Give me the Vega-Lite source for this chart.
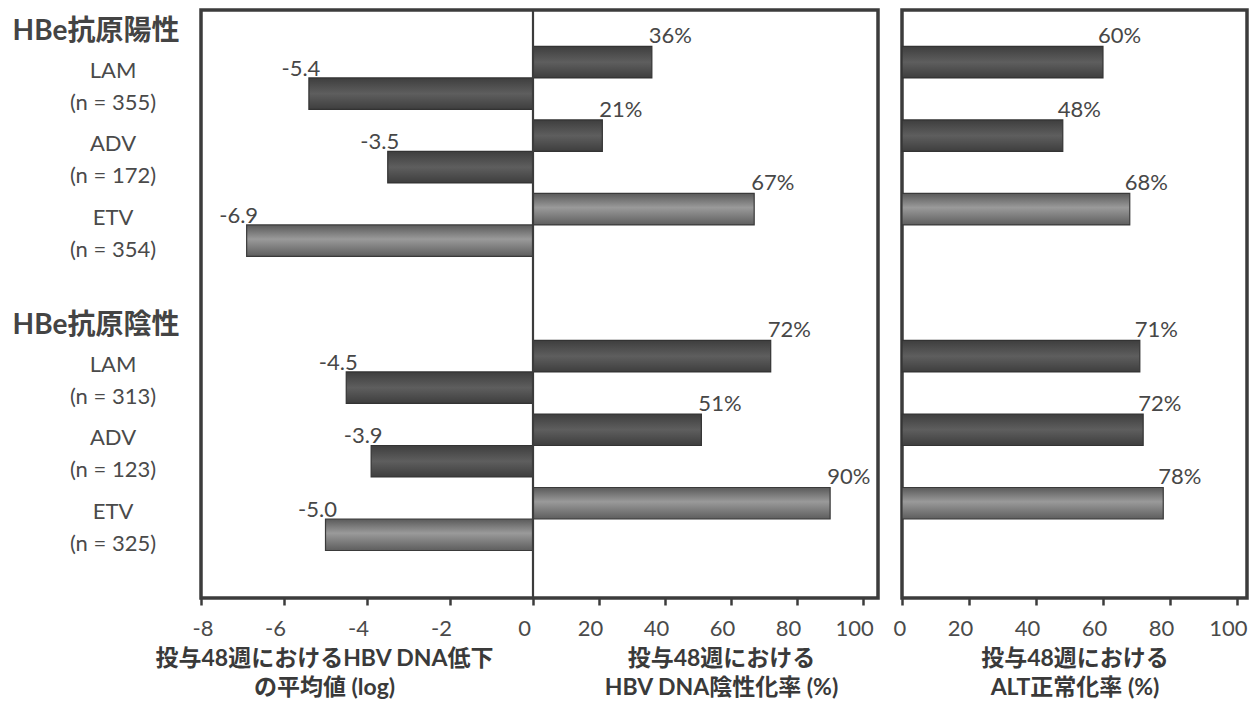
{
  "$schema": "https://vega.github.io/schema/vega-lite/v6.json",
  "background": "white",
  "padding": {"left": 10, "top": 7, "right": 5, "bottom": 5},
  "datasets": {
    "main": [
      {"group": "HBe抗原陽性", "drug": "LAM", "arm": "LAM|(n = 355)", "measure": "HBV DNA低下", "value": -5.4},
      {"group": "HBe抗原陽性", "drug": "LAM", "arm": "LAM|(n = 355)", "measure": "HBV DNA陰性化率", "value": 36},
      {"group": "HBe抗原陽性", "drug": "LAM", "arm": "LAM|(n = 355)", "measure": "ALT正常化率", "value": 60},
      {"group": "HBe抗原陽性", "drug": "ADV", "arm": "ADV|(n = 172)", "measure": "HBV DNA低下", "value": -3.5},
      {"group": "HBe抗原陽性", "drug": "ADV", "arm": "ADV|(n = 172)", "measure": "HBV DNA陰性化率", "value": 21},
      {"group": "HBe抗原陽性", "drug": "ADV", "arm": "ADV|(n = 172)", "measure": "ALT正常化率", "value": 48},
      {"group": "HBe抗原陽性", "drug": "ETV", "arm": "ETV|(n = 354)", "measure": "HBV DNA低下", "value": -6.9},
      {"group": "HBe抗原陽性", "drug": "ETV", "arm": "ETV|(n = 354)", "measure": "HBV DNA陰性化率", "value": 67},
      {"group": "HBe抗原陽性", "drug": "ETV", "arm": "ETV|(n = 354)", "measure": "ALT正常化率", "value": 68},
      {"group": "HBe抗原陰性", "drug": "LAM", "arm": "LAM|(n = 313)", "measure": "HBV DNA低下", "value": -4.5},
      {"group": "HBe抗原陰性", "drug": "LAM", "arm": "LAM|(n = 313)", "measure": "HBV DNA陰性化率", "value": 72},
      {"group": "HBe抗原陰性", "drug": "LAM", "arm": "LAM|(n = 313)", "measure": "ALT正常化率", "value": 71},
      {"group": "HBe抗原陰性", "drug": "ADV", "arm": "ADV|(n = 123)", "measure": "HBV DNA低下", "value": -3.9},
      {"group": "HBe抗原陰性", "drug": "ADV", "arm": "ADV|(n = 123)", "measure": "HBV DNA陰性化率", "value": 51},
      {"group": "HBe抗原陰性", "drug": "ADV", "arm": "ADV|(n = 123)", "measure": "ALT正常化率", "value": 72},
      {"group": "HBe抗原陰性", "drug": "ETV", "arm": "ETV|(n = 325)", "measure": "HBV DNA低下", "value": -5.0},
      {"group": "HBe抗原陰性", "drug": "ETV", "arm": "ETV|(n = 325)", "measure": "HBV DNA陰性化率", "value": 90},
      {"group": "HBe抗原陰性", "drug": "ETV", "arm": "ETV|(n = 325)", "measure": "ALT正常化率", "value": 78}
    ]
  },
  "config": {
    "font": "Lato, 'Noto Sans CJK JP', sans-serif",
    "view": {"stroke": "#3c3c3c", "strokeWidth": 3.5},
    "axis": {
      "grid": false,
      "domain": false,
      "labelFont": "Lato, 'Noto Sans CJK JP', sans-serif",
      "labelFontSize": 22,
      "labelColor": "#4a4a4a",
      "titleFont": "Lato, 'Noto Sans CJK JP', sans-serif",
      "titleFontSize": 23,
      "titleFontWeight": "bold",
      "titleColor": "#3a3a3a",
      "tickColor": "#3c3c3c",
      "tickWidth": 2.5,
      "tickSize": 7
    }
  },
  "spacing": 24,
  "bounds": "flush",
  "resolve": {"scale": {"y": "independent", "yOffset": "independent"}, "axis": {"y": "independent"}},
  "hconcat": [
    {
      "width": 677,
      "height": 588,
      "data": {"name": "main"},
      "transform": [
        {"filter": "datum.measure !== 'ALT正常化率'"},
        {"calculate": "datum.measure === 'HBV DNA低下' ? replace(format(datum.value, '.1f'), '−', '-') : datum.value + '%'", "as": "label"}
      ],
      "resolve": {"axis": {"x": "independent"}},
      "layer": [
        {
          "transform": [{"filter": "datum.drug !== 'ETV'"}],
          "mark": {
            "type": "bar",
            "fill": {"gradient": "linear", "x1": 0, "y1": 0, "x2": 0, "y2": 1, "stops": [{"offset": 0, "color": "#3e3e3e"}, {"offset": 0.5, "color": "#5e5e5e"}, {"offset": 1, "color": "#3e3e3e"}]},
            "stroke": "#333333",
            "strokeWidth": 1.2
          },
          "encoding": {
            "x": {
              "field": "value", "type": "quantitative",
              "scale": {"domain": [-8, 0, 104.5], "range": [0, 332, 677], "nice": false, "zero": false},
              "axis": {
                "orient": "bottom",
                "values": [-8, -6, -4, -2, 0],
                "labelExpr": "'' + datum.value",
                "labelOffset": -9,
                "labelPadding": 13,
                "title": ["投与48週におけるHBV DNA低下", "の平均値 (log)"],
                "titleX": 123,
                "titleAlign": "center",
                "titlePadding": 8,
                "titleLineHeight": 29
              }
            },
            "y": {
              "field": "arm", "type": "nominal",
              "scale": {"domain": ["LAM|(n = 355)", "ADV|(n = 172)", "ETV|(n = 354)", "gap", "LAM|(n = 313)", "ADV|(n = 123)", "ETV|(n = 325)"], "paddingInner": 0.143, "paddingOuter": 0.571, "align": 0.434},
              "axis": null
            },
            "yOffset": {"field": "measure", "type": "nominal", "scale": {"domain": ["HBV DNA陰性化率", "HBV DNA低下"], "paddingInner": 0, "paddingOuter": 0}}
          }
        },
        {
          "transform": [{"filter": "datum.drug === 'ETV'"}],
          "mark": {
            "type": "bar",
            "fill": {"gradient": "linear", "x1": 0, "y1": 0, "x2": 0, "y2": 1, "stops": [{"offset": 0, "color": "#5a5a5a"}, {"offset": 0.45, "color": "#9a9a9a"}, {"offset": 1, "color": "#5e5e5e"}]},
            "stroke": "#3a3a3a",
            "strokeWidth": 1.2
          },
          "encoding": {
            "x": {
              "field": "value", "type": "quantitative",
              "scale": {"domain": [-8, 0, 104.5], "range": [0, 332, 677], "nice": false, "zero": false},
              "axis": {
                "orient": "bottom",
                "values": [20, 40, 60, 80, 100],
                "labelExpr": "'' + datum.value",
                "labelOffset": -9,
                "labelPadding": 13,
                "title": ["投与48週における", "HBV DNA陰性化率 (%)"],
                "titleX": 520,
                "titleAlign": "center",
                "titlePadding": 8,
                "titleLineHeight": 29
              }
            },
            "y": {"field": "arm", "type": "nominal", "axis": null},
            "yOffset": {"field": "measure", "type": "nominal"}
          }
        },
        {
          "data": {"values": [{}]},
          "mark": {"type": "rule", "color": "#3c3c3c", "strokeWidth": 2.2},
          "encoding": {"x": {"datum": 0, "type": "quantitative", "axis": null}}
        },
        {
          "transform": [{"filter": "datum.measure === 'HBV DNA低下'"}],
          "mark": {"type": "text", "align": "center", "baseline": "alphabetic", "dx": -8, "dy": -18, "fontSize": 22, "color": "#474747"},
          "encoding": {
            "x": {"field": "value", "type": "quantitative", "axis": null},
            "y": {"field": "arm", "type": "nominal", "axis": null},
            "yOffset": {"field": "measure", "type": "nominal"},
            "text": {"field": "label"}
          }
        },
        {
          "transform": [{"filter": "datum.measure === 'HBV DNA陰性化率'"}],
          "mark": {"type": "text", "align": "left", "baseline": "alphabetic", "dx": -3, "dy": -19, "fontSize": 22, "color": "#474747"},
          "encoding": {
            "x": {"field": "value", "type": "quantitative", "axis": null},
            "y": {"field": "arm", "type": "nominal", "axis": null},
            "yOffset": {"field": "measure", "type": "nominal"},
            "text": {"field": "label"}
          }
        },
        {
          "transform": [
            {"filter": "datum.measure === 'HBV DNA陰性化率'"},
            {"calculate": "split(datum.arm, '|')", "as": "armLines"}
          ],
          "mark": {"type": "text", "align": "center", "baseline": "middle", "lineHeight": 32, "dx": -88, "dy": -7, "fontSize": 22, "color": "#4a4a4a"},
          "encoding": {
            "x": {"datum": -8, "type": "quantitative", "axis": null},
            "y": {"field": "arm", "type": "nominal", "axis": null},
            "text": {"field": "armLines"}
          }
        },
        {
          "transform": [{"filter": "datum.drug === 'LAM' && datum.measure === 'HBV DNA陰性化率'"}],
          "mark": {"type": "text", "align": "center", "baseline": "middle", "dx": -105, "dy": -30, "fontSize": 28, "fontWeight": "bold", "color": "#444444"},
          "encoding": {
            "x": {"datum": -8, "type": "quantitative", "axis": null},
            "y": {"field": "arm", "type": "nominal", "axis": null},
            "yOffset": {"field": "measure", "type": "nominal"},
            "text": {"field": "group"}
          }
        }
      ]
    },
    {
      "width": 345,
      "height": 588,
      "data": {"name": "main"},
      "transform": [
        {"filter": "datum.measure === 'ALT正常化率'"},
        {"calculate": "datum.value + '%'", "as": "label"}
      ],
      "resolve": {"axis": {"x": "independent"}},
      "layer": [
        {
          "transform": [{"filter": "datum.drug !== 'ETV'"}],
          "mark": {
            "type": "bar",
            "fill": {"gradient": "linear", "x1": 0, "y1": 0, "x2": 0, "y2": 1, "stops": [{"offset": 0, "color": "#3e3e3e"}, {"offset": 0.5, "color": "#5e5e5e"}, {"offset": 1, "color": "#3e3e3e"}]},
            "stroke": "#333333",
            "strokeWidth": 1.2
          },
          "encoding": {
            "x": {
              "field": "value", "type": "quantitative",
              "scale": {"domain": [0, 103], "nice": false, "zero": false},
              "axis": {
                "orient": "bottom",
                "values": [0, 20, 40, 60, 80, 100],
                "labelExpr": "'' + datum.value",
                "labelOffset": -9,
                "labelPadding": 13,
                "title": ["投与48週における", "ALT正常化率 (%)"],
                "titlePadding": 8,
                "titleLineHeight": 29
              }
            },
            "y": {
              "field": "arm", "type": "nominal",
              "scale": {"domain": ["LAM|(n = 355)", "ADV|(n = 172)", "ETV|(n = 354)", "gap", "LAM|(n = 313)", "ADV|(n = 123)", "ETV|(n = 325)"], "paddingInner": 0.143, "paddingOuter": 0.571, "align": 0.434},
              "axis": null
            },
            "yOffset": {"field": "measure", "type": "nominal", "scale": {"domain": ["ALT正常化率", "_"], "paddingInner": 0, "paddingOuter": 0}}
          }
        },
        {
          "transform": [{"filter": "datum.drug === 'ETV'"}],
          "mark": {
            "type": "bar",
            "fill": {"gradient": "linear", "x1": 0, "y1": 0, "x2": 0, "y2": 1, "stops": [{"offset": 0, "color": "#5a5a5a"}, {"offset": 0.45, "color": "#9a9a9a"}, {"offset": 1, "color": "#5e5e5e"}]},
            "stroke": "#3a3a3a",
            "strokeWidth": 1.2
          },
          "encoding": {
            "x": {"field": "value", "type": "quantitative", "axis": null},
            "y": {"field": "arm", "type": "nominal", "axis": null},
            "yOffset": {"field": "measure", "type": "nominal"}
          }
        },
        {
          "mark": {"type": "text", "align": "left", "baseline": "alphabetic", "dx": -5, "dy": -19, "fontSize": 22, "color": "#474747"},
          "encoding": {
            "x": {"field": "value", "type": "quantitative", "axis": null},
            "y": {"field": "arm", "type": "nominal", "axis": null},
            "yOffset": {"field": "measure", "type": "nominal"},
            "text": {"field": "label"}
          }
        }
      ]
    }
  ]
}
